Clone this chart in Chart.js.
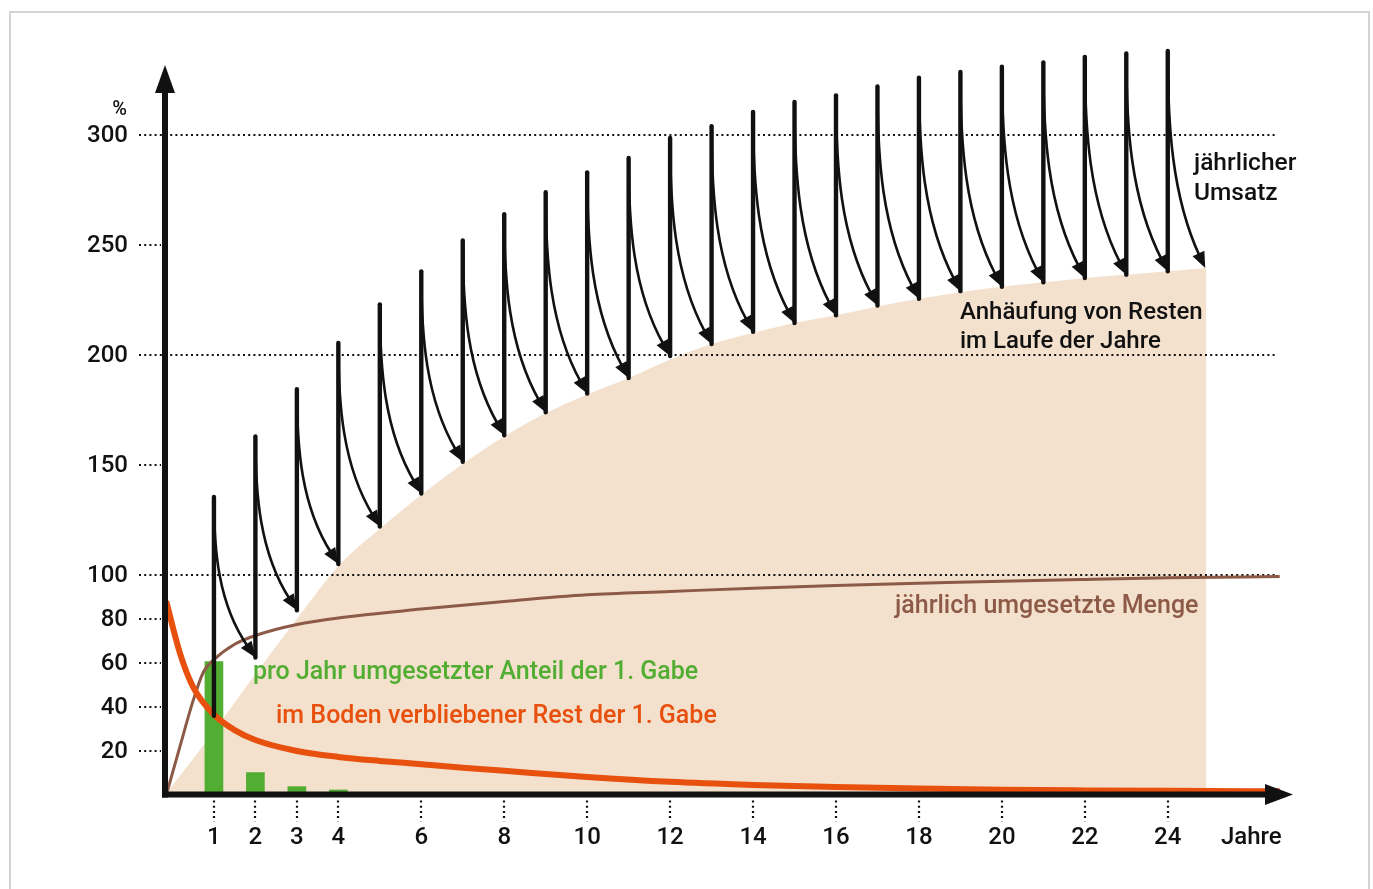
<!DOCTYPE html>
<html>
<head>
<meta charset="utf-8">
<script src="https://cdn.jsdelivr.net/npm/chart.js@4"></script>
<style>
html,body{margin:0;padding:0;background:#fff;}
canvas{display:block;}
</style>
</head>
<body>
<canvas id="c" width="1373" height="889"></canvas>
<script>
// ---------- data ----------
const xTicks = [1, 2, 3, 4, 6, 8, 10, 12, 14, 16, 18, 20, 22, 24];
const yTicks = [20, 40, 60, 80, 100, 150, 200, 250, 300];
const yFullGrid = [100, 200, 300];

// jährlicher Umsatz: vertical strokes (year, base -> top)
const years = [1,2,3,4,5,6,7,8,9,10,11,12,13,14,15,16,17,18,19,20,21,22,23,24];
const umsatzTop  = [135.5,163,184.5,205.5,223,238,252,264,274,283,289.5,298.6,304,310.5,315,318,322,326,328.6,331,333,335.5,337,338.2];
const umsatzBase = [36,62.5,84,105,122,137,151.5,163.5,174,182.5,189.5,199.5,205,210.5,214.5,218,222.5,225.5,229,231,233,235,236.5,238];
const lastArrowYear = 25;
const lastArrowValue = 239.5;

// Anhäufung von Resten im Laufe der Jahre (filled area)
const accumYears  = [-0.18,1,2,3,4,5,6,7,8,9,10,11,12,13,14,15,16,17,18,19,20,21,22,23,24,24.93];
const accumValues = [0,29,55,80,104,121,136.5,150.5,163,173.5,182,189.5,198,205,210,214.5,218,222,225.5,228.5,231,233,235,236.5,238,239.5];

// jährlich umgesetzte Menge (brown line)
const mengeYears  = [-0.15,0.18,0.5,0.75,1,1.5,2,3,4,6,8,10,12,14,16,18,20,22,24,26.7];
const mengeValues = [0,22,43,56,61.5,68.5,72.5,77.5,80.5,84.5,88,91,92.5,94,95.2,96.2,97.2,98,98.7,99.3];

// im Boden verbliebener Rest der 1. Gabe (orange line)
const restYears  = [-0.15,0.18,0.5,1,1.5,2,3,4,5,6,7,8,10,12,14,16,18,20,22,24,26.7];
const restValues = [88,64.5,49,36.5,29.5,25,20,17.3,15.5,14,12.4,11,8.2,6,4.6,3.6,2.9,2.4,2.1,1.9,1.7];

// pro Jahr umgesetzter Anteil der 1. Gabe (green bars)
const anteilYears  = [1,2,3,4];
const anteilValues = [60.6,10.2,3.8,2.3];

// ---------- styling ----------
const FONT = 'Roboto, "Open Sans", "DejaVu Sans", sans-serif';
const C_FILL = '#F3E0CD';
const C_GREEN = '#52AE32';
const C_ORANGE = '#E8500E';
const C_BROWN = '#8C5A47';
const C_BLACK = '#111111';

const toXY = (xs, ys) => xs.map((x, i) => ({x: x, y: ys[i]}));

function arrow(ctx, x0, y0, x1, y1) {
  const dx = x1 - x0, dy = y1 - y0;
  const p1x = x0, p1y = y0 + dy / 3;
  const p2x = x0 + 0.1 * dx, p2y = y0 + 2 * dy / 3;
  let ux = x1 - p2x, uy = y1 - p2y;
  const L = Math.hypot(ux, uy); ux /= L; uy /= L;
  const hl = 16, hw = 6.5;
  const bx = x1 - ux * hl, by = y1 - uy * hl;
  ctx.beginPath();
  ctx.moveTo(x0, y0);
  ctx.bezierCurveTo(p1x, p1y, p2x, p2y, bx + ux * 3, by + uy * 3);
  ctx.stroke();
  ctx.beginPath();
  ctx.moveTo(x1, y1);
  ctx.lineTo(bx - uy * hw, by + ux * hw);
  ctx.lineTo(bx + uy * hw, by - ux * hw);
  ctx.closePath();
  ctx.fill();
}

const decor = {
  id: 'decor',
  beforeDraw(chart) {
    const ctx = chart.ctx;
    ctx.save();
    ctx.strokeStyle = '#d4d4d4';
    ctx.lineWidth = 2;
    ctx.beginPath();
    ctx.moveTo(10, 900); ctx.lineTo(10, 12); ctx.lineTo(1369, 12); ctx.lineTo(1369, 900);
    ctx.stroke();
    ctx.restore();
  },
  afterDatasetDraw(chart, args) {
    if (args.index !== 0) return;
    const ctx = chart.ctx, xs = chart.scales.x, ys = chart.scales.y;
    const area = chart.chartArea;
    ctx.save();
    ctx.strokeStyle = C_BLACK;
    ctx.lineWidth = 2;
    ctx.setLineDash([2, 3.2]);
    const xl = area.left - 26;
    const xr = xs.getPixelForValue(26.6);
    yTicks.forEach(v => {
      const y = Math.round(ys.getPixelForValue(v));
      ctx.beginPath();
      ctx.moveTo(xl, y);
      ctx.lineTo(yFullGrid.includes(v) ? xr : area.left - 4, y);
      ctx.stroke();
    });
    ctx.restore();
  },
  afterDatasetsDraw(chart) {
    const ctx = chart.ctx, xs = chart.scales.x, ys = chart.scales.y;
    const area = chart.chartArea;
    ctx.save();
    // vertical strokes
    ctx.strokeStyle = C_BLACK;
    ctx.fillStyle = C_BLACK;
    ctx.lineCap = 'round';
    ctx.lineWidth = 4.4;
    years.forEach((yr, i) => {
      const x = xs.getPixelForValue(yr);
      ctx.beginPath();
      ctx.moveTo(x, ys.getPixelForValue(umsatzBase[i]));
      ctx.lineTo(x, ys.getPixelForValue(umsatzTop[i]));
      ctx.stroke();
    });
    // turnover arrows
    ctx.lineWidth = 2.6;
    ctx.lineCap = 'butt';
    years.forEach((yr, i) => {
      const x0 = xs.getPixelForValue(yr), y0 = ys.getPixelForValue(umsatzTop[i]);
      const nx = i + 1 < years.length ? years[i + 1] : lastArrowYear;
      const nv = i + 1 < years.length ? umsatzBase[i + 1] : lastArrowValue;
      arrow(ctx, x0, y0, xs.getPixelForValue(nx) - (i + 1 < years.length ? 0 : 4), ys.getPixelForValue(nv));
    });

    // axes
    const ox = area.left, oy = ys.getPixelForValue(0) - 0.5;
    ctx.lineWidth = 6;
    ctx.beginPath(); ctx.moveTo(ox, oy + 3); ctx.lineTo(ox, area.top + 26); ctx.stroke();
    ctx.beginPath(); ctx.moveTo(ox - 10, area.top + 28); ctx.lineTo(ox + 10, area.top + 28); ctx.lineTo(ox, area.top); ctx.closePath(); ctx.fill();
    ctx.beginPath(); ctx.moveTo(ox - 3, oy); ctx.lineTo(area.right - 26, oy); ctx.stroke();
    ctx.beginPath(); ctx.moveTo(area.right - 28, oy - 10.5); ctx.lineTo(area.right - 28, oy + 10.5); ctx.lineTo(area.right, oy); ctx.closePath(); ctx.fill();

    // x tick marks
    ctx.lineWidth = 2.2;
    ctx.setLineDash([2, 3.2]);
    xTicks.forEach(t => {
      const x = Math.round(xs.getPixelForValue(t));
      ctx.beginPath(); ctx.moveTo(x, oy + 6); ctx.lineTo(x, oy + 27); ctx.stroke();
    });
    ctx.setLineDash([]);

    // tick labels
    ctx.fillStyle = C_BLACK;
    ctx.font = '500 24px ' + FONT;
    ctx.textAlign = 'center';
    ctx.textBaseline = 'alphabetic';
    xTicks.forEach(t => ctx.fillText(String(t), xs.getPixelForValue(t), oy + 49));
    ctx.textAlign = 'left';
    ctx.fillText('Jahre', 1221, oy + 49);
    ctx.textAlign = 'right';
    ctx.textBaseline = 'middle';
    yTicks.forEach(v => ctx.fillText(String(v), area.left - 37, ys.getPixelForValue(v) + 1));
    ctx.textBaseline = 'alphabetic';
    ctx.font = '500 20px ' + FONT;
    ctx.fillText('%', area.left - 38, 115);

    // series labels
    ctx.textAlign = 'left';
    ctx.font = '500 24.5px ' + FONT;
    ctx.fillStyle = C_BLACK;
    ctx.fillText('jährlicher', 1194, 170);
    ctx.fillText('Umsatz', 1194, 200);
    ctx.font = '500 24px ' + FONT;
    ctx.fillText('Anhäufung von Resten', 960, 319);
    ctx.fillText('im Laufe der Jahre', 960, 348);
    ctx.font = '500 25px ' + FONT;
    ctx.fillStyle = C_BROWN;
    ctx.fillText('jährlich umgesetzte Menge', 895, 613);
    ctx.fillStyle = C_GREEN;
    ctx.fillText('pro Jahr umgesetzter Anteil der 1. Gabe', 253, 679);
    ctx.fillStyle = C_ORANGE;
    ctx.fillText('im Boden verbliebener Rest der 1. Gabe', 276, 723);
    ctx.restore();
  }
};

new Chart(document.getElementById('c'), {
  data: {
    datasets: [
      {
        type: 'line', label: 'Anhäufung von Resten', data: toXY(accumYears, accumValues),
        fill: 'origin', backgroundColor: C_FILL, borderWidth: 0, borderColor: 'rgba(0,0,0,0)',
        pointRadius: 0, cubicInterpolationMode: 'monotone', order: 5
      },
      {
        type: 'bar', label: 'pro Jahr umgesetzter Anteil der 1. Gabe', data: toXY(anteilYears, anteilValues),
        backgroundColor: C_GREEN, barThickness: 18, order: 4
      },
      {
        type: 'line', label: 'jährlich umgesetzte Menge', data: toXY(mengeYears, mengeValues),
        borderColor: C_BROWN, borderWidth: 3, fill: false, pointRadius: 0,
        cubicInterpolationMode: 'monotone', order: 3
      },
      {
        type: 'line', label: 'im Boden verbliebener Rest der 1. Gabe', data: toXY(restYears, restValues),
        borderColor: C_ORANGE, borderWidth: 6, fill: false, pointRadius: 0,
        cubicInterpolationMode: 'monotone', order: 2
      }
    ]
  },
  options: {
    responsive: false,
    animation: false,
    devicePixelRatio: 1,
    layout: { padding: { left: 165, right: 80, top: 65, bottom: 94 } },
    plugins: { legend: { display: false }, tooltip: { enabled: false } },
    scales: {
      x: { type: 'linear', min: -0.18, max: 27.02, offset: false, display: false },
      y: { type: 'linear', min: 0, max: 331.8, display: false }
    }
  },
  plugins: [decor]
});
</script>
</body>
</html>
